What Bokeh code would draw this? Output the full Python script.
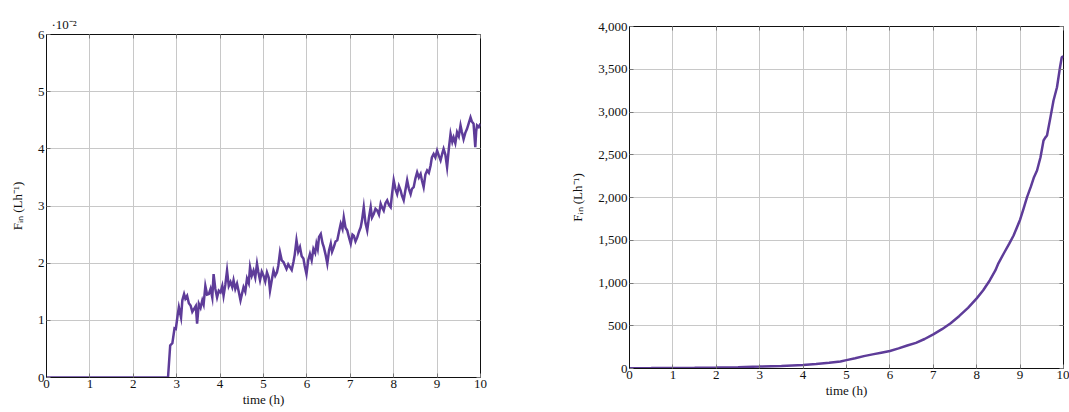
from bokeh.plotting import figure
from bokeh.layouts import row
from bokeh.models import LinearAxis, NumeralTickFormatter, FixedTicker, Range1d, Title
from bokeh.embed import file_html
from bokeh.resources import INLINE

# ---- data ----
# left panel: F_in in units of 1e-2 L/h
t_left = [0.0, 2.8, 2.85, 2.9, 2.95, 2.98, 3.02, 3.05, 3.1, 3.13, 3.17, 3.2, 3.24, 3.28,
          3.32, 3.36, 3.40, 3.44, 3.47, 3.51, 3.55, 3.59, 3.62, 3.66, 3.70, 3.74, 3.78,
          3.82, 3.85, 3.89, 3.93, 3.97, 4.01, 4.05, 4.08, 4.12, 4.16, 4.2, 4.24, 4.28,
          4.31, 4.35, 4.39, 4.43, 4.47, 4.5, 4.54, 4.58, 4.62, 4.66, 4.69, 4.73, 4.77,
          4.81, 4.85, 4.88, 4.92, 4.96, 5.00, 5.04, 5.08, 5.12, 5.15, 5.19, 5.23, 5.27,
          5.31, 5.34, 5.38, 5.42, 5.46, 5.5, 5.53, 5.57, 5.61, 5.65, 5.69, 5.72, 5.76,
          5.8, 5.84, 5.88, 5.92, 5.95, 5.99, 6.03, 6.07, 6.11, 6.15, 6.19, 6.22, 6.25,
          6.28, 6.32, 6.36, 6.39, 6.43, 6.47, 6.51, 6.55, 6.58, 6.62, 6.66, 6.70, 6.74,
          6.78, 6.82, 6.85, 6.89, 6.93, 6.97, 7.01, 7.05, 7.08, 7.12, 7.16, 7.2, 7.24,
          7.27, 7.31, 7.35, 7.39, 7.43, 7.47, 7.5, 7.54, 7.58, 7.62, 7.66, 7.70, 7.73,
          7.77, 7.81, 7.85, 7.89, 7.93, 7.96, 8.00, 8.04, 8.08, 8.12, 8.16, 8.19, 8.23,
          8.27, 8.31, 8.35, 8.39, 8.42, 8.46, 8.5, 8.54, 8.58, 8.62, 8.65, 8.69, 8.73,
          8.77, 8.81, 8.85, 8.88, 8.92, 8.96, 9.00, 9.04, 9.08, 9.12, 9.15, 9.19, 9.23,
          9.27, 9.31, 9.35, 9.38, 9.42, 9.46, 9.5, 9.54, 9.57, 9.61, 9.65, 9.69, 9.73,
          9.77, 9.8, 9.84, 9.88, 9.9, 9.92, 9.96, 10.0]
fin_left = [0.0, 0.0, 0.56, 0.60, 0.86, 0.85, 1.08, 1.23, 1.05, 1.35, 1.46, 1.38, 1.43, 1.30,
            1.26, 1.15, 1.20, 1.25, 0.94, 1.29, 1.22, 1.35, 1.28, 1.60, 1.45, 1.46, 1.55,
            1.40, 1.81, 1.55, 1.40, 1.52, 1.49, 1.60, 1.43, 1.62, 1.87, 1.60, 1.67, 1.58,
            1.70, 1.55, 1.64, 1.50, 1.35, 1.45, 1.58, 1.50, 1.73, 1.65, 1.93, 1.78, 1.87,
            1.75, 1.99, 1.85, 1.70, 1.85, 1.78, 1.68, 1.84, 1.75, 1.52, 1.70, 1.87, 1.78,
            1.84, 1.95, 2.19, 2.05, 2.02, 1.95, 1.90, 1.98, 1.93, 1.88, 2.02, 2.15, 2.40,
            2.20, 2.28, 2.12, 2.08, 1.95, 1.81, 2.05, 2.16, 2.05, 2.25, 2.18, 2.34, 2.25,
            2.46, 2.51, 2.35, 2.28, 2.15, 1.99, 2.22, 2.34, 2.20, 2.28, 2.38, 2.40, 2.55,
            2.69, 2.60, 2.80, 2.62, 2.57, 2.45, 2.34, 2.50, 2.48, 2.38, 2.45, 2.55, 2.63,
            2.75, 2.98, 2.70, 2.57, 2.80, 2.98, 2.80, 2.86, 2.95, 2.92, 2.85, 3.04, 2.98,
            2.92, 3.05, 3.10, 3.02, 2.98, 3.20, 3.45, 3.30, 3.21, 3.35, 3.27, 3.18, 3.10,
            3.28, 3.45, 3.30, 3.21, 3.30, 3.33, 3.48, 3.59, 3.50, 3.56, 3.45, 3.33, 3.55,
            3.62, 3.58, 3.71, 3.85, 3.91, 3.85, 3.97, 3.88, 3.80, 3.92, 4.00, 3.90, 3.68,
            4.00, 4.26, 4.12, 4.20, 4.10, 4.29, 4.22, 4.41, 4.30, 4.17, 4.28, 4.35, 4.45,
            4.55, 4.48, 4.44, 4.03, 4.30, 4.41, 4.38, 4.44]

# right panel: F_in in L/h
t_right = [0.0, 0.5, 1.0, 1.5, 2.0, 2.5, 3.0, 3.5, 4.0, 4.3, 4.6, 4.86, 5.0, 5.2, 5.4,
           5.63, 5.8, 6.0, 6.2, 6.4, 6.6, 6.8, 7.0, 7.2, 7.4, 7.6, 7.8, 8.0, 8.15, 8.3,
           8.43, 8.5, 8.62, 8.75, 8.85, 9.0, 9.08, 9.16, 9.25, 9.32, 9.39, 9.47, 9.54,
           9.58, 9.62, 9.7, 9.77, 9.85, 9.92, 9.96, 10.0]
fin_right = [4, 5, 7, 9, 12, 16, 22, 30, 42, 52, 66, 82, 98, 120, 145,
             168, 185, 205, 235, 269, 300, 345, 400, 460, 530, 615, 710, 820, 915, 1030,
             1147, 1230, 1342, 1460, 1556, 1740, 1870, 2004, 2130, 2238, 2316, 2471, 2667,
             2700, 2725, 2940, 3135, 3290, 3524, 3641, 3650]

x_ticks = [0, 1, 2, 3, 4, 5, 6, 7, 8, 9, 10]
y_ticks_left = [0, 1, 2, 3, 4, 5, 6]
y_ticks_right = [0, 500, 1000, 1500, 2000, 2500, 3000, 3500, 4000]

LINE = "#5e3c99"
FONT = "Liberation Serif"
YLABEL = "Fᵢₙ (Lh⁻¹)"


def style(p, yticks):
    p.outline_line_color = "#111111"
    p.outline_line_width = 1
    p.background_fill_color = "white"
    p.border_fill_color = "white"
    p.xaxis.ticker = FixedTicker(ticks=x_ticks)
    p.yaxis.ticker = FixedTicker(ticks=yticks)
    p.xgrid.ticker = FixedTicker(ticks=x_ticks)
    p.ygrid.ticker = FixedTicker(ticks=yticks)
    p.grid.grid_line_color = "#c8c8c8"
    p.grid.grid_line_width = 1
    for ax in p.xaxis + p.yaxis:
        ax.axis_line_color = "#111111"
        ax.major_tick_in = 4
        ax.major_tick_out = 0
        ax.minor_tick_in = 0
        ax.minor_tick_out = 0
        ax.major_tick_line_color = "#777777"
        ax.major_label_text_font = FONT
        ax.major_label_text_font_size = "13px"
        ax.major_label_text_color = "#111111"
        ax.axis_label_text_font = FONT
        ax.axis_label_text_font_size = "13px"
        ax.axis_label_text_font_style = "normal"
        ax.axis_label_text_color = "#111111"
        ax.major_label_standoff = 2
        ax.axis_label_standoff = 1
    for ax in p.yaxis:
        ax.axis_label_standoff = 10
    for loc, rng_ticks in (("above", x_ticks), ("right", yticks)):
        ax = LinearAxis(ticker=FixedTicker(ticks=rng_ticks),
                        major_label_overrides={t: "" for t in rng_ticks},
                        major_label_text_font_size="0px",
                        major_label_standoff=0,
                        major_tick_in=4, major_tick_out=0,
                        minor_tick_in=0, minor_tick_out=0,
                        major_tick_line_color="#777777",
                        axis_line_color=None)
        p.add_layout(ax, loc)


# ---- left figure (shifted 8px down with a top margin) ----
p1 = figure(width=560, height=404, output_backend="svg", toolbar_location=None,
            x_range=Range1d(0, 10), y_range=Range1d(0, 6),
            min_border_left=46, min_border_right=80, min_border_top=26, min_border_bottom=35)
p1.margin = (8, 0, 0, 0)
p1.title = Title(text="·10⁻²", align="left", offset=5, text_font=FONT,
                 text_font_size="13px", text_font_style="normal", text_color="#111111",
                 standoff=6)
p1.line(t_left, fin_left, line_color=LINE, line_width=2.5, line_join="miter")
p1.xaxis.axis_label = "time (h)"
p1.yaxis.axis_label = YLABEL
style(p1, y_ticks_left)

# ---- right figure ----
p2 = figure(width=509, height=403, output_backend="svg", toolbar_location=None,
            x_range=Range1d(0, 10), y_range=Range1d(0, 4000),
            min_border_left=69, min_border_right=6, min_border_top=26, min_border_bottom=35)
p2.margin = (0, 0, 0, 0)
p2.line(t_right, fin_right, line_color=LINE, line_width=2.5)
p2.xaxis.axis_label = "time (h)"
p2.yaxis.axis_label = YLABEL
p2.yaxis.formatter = NumeralTickFormatter(format="0,0")
style(p2, y_ticks_right)

layout = row(p1, p2)
open("out.html", "w").write(file_html(layout, INLINE))
